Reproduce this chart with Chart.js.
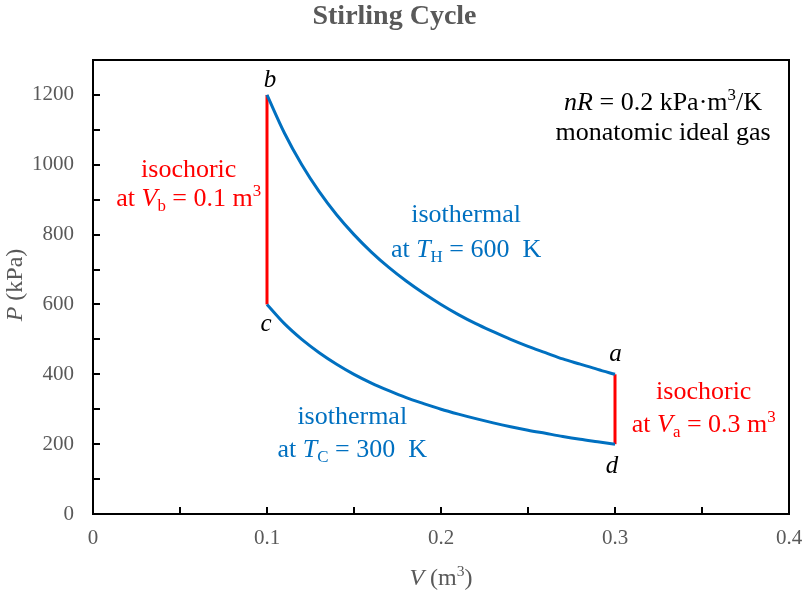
<!DOCTYPE html>
<html>
<head>
<meta charset="utf-8">
<script src="https://cdn.jsdelivr.net/npm/chart.js@4"></script>
<style>
html,body{margin:0;padding:0;background:#fff}
#wrap{width:805px;height:592px;position:relative}
</style>
</head>
<body>
<div id="wrap"><canvas id="c"></canvas></div>
<script>
// volumes (m3) read along the two isotherms
const volumes = [0.10,0.11,0.12,0.13,0.14,0.15,0.16,0.17,0.18,0.19,0.20,0.21,0.22,0.23,0.24,0.25,0.26,0.27,0.28,0.29,0.30];
const hotP  = [1200,1091,1000,923,857,800,750,706,667,632,600,571,545,522,500,480,462,444,429,414,400];
const coldP = [600,545,500,462,429,400,375,353,333,316,300,286,273,261,250,240,231,222,214,207,200];
// isochoric legs
const leftV = [0.1,0.1],  leftP = [600,1200];
const rightV = [0.3,0.3], rightP = [200,400];

const xTickStep = 0.05, xLabelStep = 0.1;
const yTickStep = 100,  yLabelStep = 200;

const SERIF = '"Liberation Serif","Times New Roman",serif';
const GRAY = '#595959', BLUE = '#0070C0', RED = '#FF0000';

function pts(xs,ys){return xs.map((x,i)=>({x:x,y:ys[i]}))}

// rich text: segments {t, i(italic), sub, sup}
function drawRich(ctx, segs, cx, cy, size, color){
  const small = size*0.65;
  const font = s => (s.i?'italic ':'')+((s.sub||s.sup)?small:size)+'px '+SERIF;
  let w = 0;
  segs.forEach(s=>{ctx.font=font(s); s.w=ctx.measureText(s.t).width; w+=s.w});
  let x = cx - w/2; const base = cy + size*0.32;
  ctx.fillStyle = color; ctx.textAlign='left'; ctx.textBaseline='alphabetic';
  segs.forEach(s=>{
    ctx.font = font(s);
    let y = base;
    if(s.sub) y += size*0.2;
    if(s.sup) y -= size*0.38;
    ctx.fillText(s.t, x, y); x += s.w;
  });
}

const notes = [
  {x:0.055, y:990, c:RED, s:[{t:'isochoric'}]},
  {x:0.055, y:905, c:RED, s:[{t:'at '},{t:'V',i:1},{t:'b',sub:1},{t:' = 0.1 m'},{t:'3',sup:1}]},
  {x:0.2144, y:861, c:BLUE, s:[{t:'isothermal'}]},
  {x:0.2144, y:761, c:BLUE, s:[{t:'at '},{t:'T',i:1},{t:'H',sub:1},{t:' = 600  K'}]},
  {x:0.149, y:282, c:BLUE, s:[{t:'isothermal'}]},
  {x:0.149, y:188, c:BLUE, s:[{t:'at '},{t:'T',i:1},{t:'C',sub:1},{t:' = 300  K'}]},
  {x:0.351, y:353, c:RED, s:[{t:'isochoric'}]},
  {x:0.351, y:259, c:RED, s:[{t:'at '},{t:'V',i:1},{t:'a',sub:1},{t:' = 0.3 m'},{t:'3',sup:1}]},
  {x:0.3276, y:1180, c:'#000', s:[{t:'nR',i:1},{t:' = 0.2 kPa·m'},{t:'3',sup:1},{t:'/K'}]},
  {x:0.3276, y:1095, c:'#000', s:[{t:'monatomic ideal gas'}]},
  {x:0.1017, y:1246, c:'#000', s:[{t:'b',i:1}], size:25},
  {x:0.0994, y:547, c:'#000', s:[{t:'c',i:1}], size:25},
  {x:0.3003, y:462, c:'#000', s:[{t:'a',i:1}], size:25},
  {x:0.2983, y:139, c:'#000', s:[{t:'d',i:1}], size:25}
];

const overlay = {
  id:'overlay',
  afterDraw(chart){
    const ctx = chart.ctx, a = chart.chartArea, xs = chart.scales.x, ys = chart.scales.y;
    ctx.save();
    // frame
    ctx.strokeStyle='#000'; ctx.lineWidth=2;
    ctx.strokeRect(a.left, a.top, a.right-a.left, a.bottom-a.top);
    // inward tick marks
    ctx.beginPath();
    xs.ticks.forEach(t=>{const p=Math.round(xs.getPixelForValue(t.value)); ctx.moveTo(p,a.bottom); ctx.lineTo(p,a.bottom-7)});
    ys.ticks.forEach(t=>{const p=Math.round(ys.getPixelForValue(t.value)); ctx.moveTo(a.left,p); ctx.lineTo(a.left+7,p)});
    ctx.stroke();
    // annotations
    notes.forEach(n=>drawRich(ctx, n.s, xs.getPixelForValue(n.x), ys.getPixelForValue(n.y), n.size||26, n.c));
    // axis titles
    drawRich(ctx, [{t:'V',i:1},{t:' (m'},{t:'3',sup:1},{t:')'}], (a.left+a.right)/2, 577, 24, GRAY);
    ctx.translate(14, (a.top+a.bottom)/2 - 2);
    ctx.rotate(-Math.PI/2);
    drawRich(ctx, [{t:'P',i:1},{t:' (kPa)'}], 0, 0, 24, GRAY);
    ctx.restore();
  }
};

function near(v, step){return Math.abs(v/step - Math.round(v/step)) < 1e-6}

new Chart(document.getElementById('c'), {
  type:'scatter',
  data:{datasets:[
    {data:pts(volumes,hotP), showLine:true, borderColor:BLUE, borderWidth:3, pointRadius:0, cubicInterpolationMode:'monotone'},
    {data:pts(volumes,coldP), showLine:true, borderColor:BLUE, borderWidth:3, pointRadius:0, cubicInterpolationMode:'monotone'},
    {data:pts(leftV,leftP), showLine:true, borderColor:RED, borderWidth:3, pointRadius:0},
    {data:pts(rightV,rightP), showLine:true, borderColor:RED, borderWidth:3, pointRadius:0}
  ]},
  options:{
    responsive:true, maintainAspectRatio:false, animation:false,
    layout:{padding:{left:0,right:16,top:0,bottom:0}},
    plugins:{
      legend:{display:false}, tooltip:{enabled:false},
      title:{display:true, text:'Stirling Cycle', color:GRAY,
        font:{family:SERIF, size:28, weight:'bold', lineHeight:1.2}, padding:{top:0,bottom:26.4}}
    },
    scales:{
      x:{type:'linear', min:0, max:0.4,
        grid:{display:false, drawTicks:false}, border:{display:false},
        ticks:{stepSize:xTickStep, autoSkip:false, maxRotation:0, padding:12, color:GRAY,
          font:{family:SERIF, size:21},
          callback:v=>near(v,xLabelStep)?String(Math.round(v*10)/10):''},
        afterFit:s=>{s.height=78; s.paddingRight=0; s.paddingLeft=0}},
      y:{type:'linear', min:0, max:1300,
        grid:{display:false, drawTicks:false}, border:{display:false},
        ticks:{stepSize:yTickStep, autoSkip:false, padding:19, color:GRAY,
          font:{family:SERIF, size:21},
          callback:v=>(near(v,yLabelStep)&&v<=1200)?String(v):''},
        afterFit:s=>{s.width=93; s.paddingTop=0; s.paddingBottom=0}}
    }
  },
  plugins:[overlay]
});
</script>
</body>
</html>
